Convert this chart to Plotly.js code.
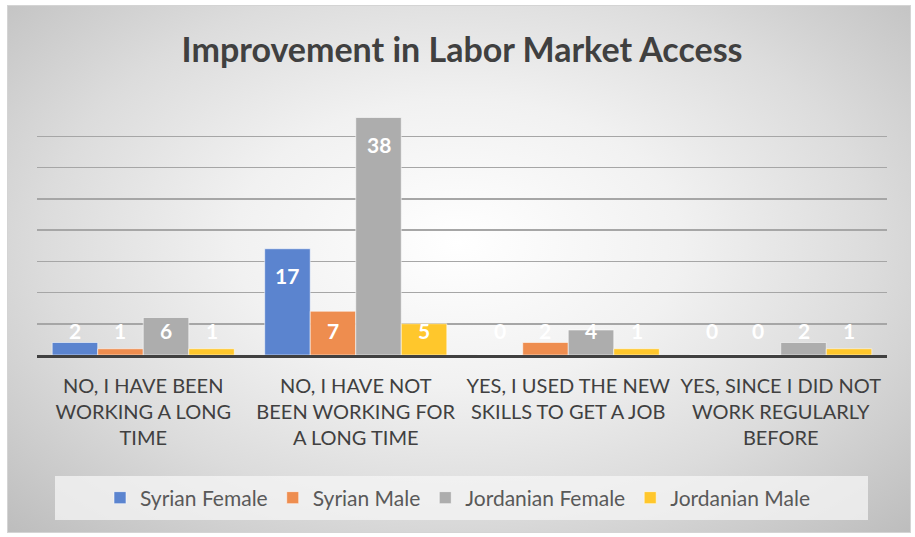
<!DOCTYPE html>
<html>
<head>
<meta charset="utf-8">
<script src="https://cdn.plot.ly/plotly-3.0.1.min.js"></script>
<style>
  html, body { margin: 0; padding: 0; background: #ffffff; }
  #wrap { position: relative; width: 915px; height: 537px; }
  #bg {
    position: absolute; left: 7px; top: 5px; width: 902px; height: 526px;
    border: 1px solid #d4d4d4;
    background: radial-gradient(ellipse farthest-corner at 50% 45%, #ffffff 0%, #f1f1f1 35%, #dcdcdc 65%, #bdbdbd 100%);
  }
  #chart { position: absolute; left: 0; top: 0; width: 915px; height: 537px; }
</style>
</head>
<body>
<div id="wrap"><div id="bg"></div><div id="chart"></div></div>
<script>
// ---- data ----
const categories = [
  "NO, I HAVE BEEN WORKING A LONG TIME",
  "NO, I HAVE NOT BEEN WORKING FOR A LONG TIME",
  "YES, I USED THE NEW SKILLS TO GET A JOB",
  "YES, SINCE I DID NOT WORK REGULARLY BEFORE"
];
const tickLabels = [
  "NO, I HAVE BEEN<br>WORKING A LONG<br>TIME",
  "NO, I HAVE NOT<br>BEEN WORKING FOR<br>A LONG TIME",
  "YES, I USED THE NEW<br>SKILLS TO GET A JOB",
  "YES, SINCE I DID NOT<br>WORK REGULARLY<br>BEFORE"
];
const seriesNames = ["Syrian Female", "Syrian Male", "Jordanian Female", "Jordanian Male"];
const syrianFemale = [2, 17, 0, 0];
const syrianMale = [1, 7, 2, 0];
const jordanianFemale = [6, 38, 4, 2];
const jordanianMale = [1, 5, 1, 1];
const seriesValues = [syrianFemale, syrianMale, jordanianFemale, jordanianMale];
const colors = ["#5B84CF", "#EE8D4F", "#ADADAD", "#FFC72C"];

// ---- layout constants ----
const W = 915, H = 537;
const M = { l: 37, r: 28, t: 105, b: 182 };
const bargap = 0.143;
const yMax = 40;
const plotW = W - M.l - M.r;
const plotH = H - M.t - M.b;
const barPx = (plotW / categories.length) * (1 - bargap) / seriesNames.length;
const pxPerUnit = plotH / yMax;
const FONT = "Lato, 'Open Sans', sans-serif";

const traces = seriesNames.map((name, i) => ({
  type: "bar",
  name: name,
  x: categories,
  y: seriesValues[i],
  marker: { color: colors[i], line: { color: "rgba(255,255,255,0.55)", width: 1 } },
  hoverinfo: "x+y+name"
}));

// data labels (Excel "inside end", clamped near the baseline for short bars)
const annotations = [];
seriesValues.forEach((vals, i) => {
  vals.forEach((v, j) => {
    const fitsInside = v * pxPerUnit - 27 > 25;
    annotations.push({
      xref: "x", yref: "y",
      x: categories[j],
      y: fitsInside ? v : 0,
      yshift: fitsInside ? -27 : 25,
      xshift: (i - (seriesNames.length - 1) / 2) * barPx,
      text: "<b>" + v + "</b>",
      showarrow: false,
      xanchor: "center", yanchor: "middle",
      font: { family: FONT, size: 21, color: "#ffffff" }
    });
  });
});

// legend box (paper coordinates relative to plot area)
const toPaperX = px => (px - M.l) / plotW;
const toPaperY = py => (H - M.b - py) / plotH;

const layout = {
  width: W, height: H,
  margin: M,
  paper_bgcolor: "rgba(0,0,0,0)",
  plot_bgcolor: "rgba(0,0,0,0)",
  barmode: "group",
  bargap: bargap,
  bargroupgap: 0,
  title: {
    text: "<b>Improvement in Labor Market Access</b>",
    font: { family: FONT, size: 34, color: "#404040" },
    x: 0.505, xanchor: "center",
    y: 1 - 50 / H, yanchor: "middle", yref: "container"
  },
  xaxis: {
    type: "category",
    tickvals: categories,
    ticktext: tickLabels,
    tickangle: 0,
    ticks: "",
    ticklabelstandoff: 11,
    showline: true, linecolor: "#404040", linewidth: 3,
    showgrid: false,
    tickfont: { family: FONT, size: 20, color: "#404040" }
  },
  yaxis: {
    range: [0, yMax],
    dtick: 5,
    showticklabels: false,
    ticks: "",
    showgrid: true, gridcolor: "#a6a6a6", gridwidth: 1.5,
    zeroline: false,
    fixedrange: true
  },
  legend: {
    orientation: "h",
    x: 0.5, xanchor: "center", xref: "container",
    y: 1 - 498 / H, yanchor: "middle", yref: "container",
    bgcolor: "rgba(0,0,0,0)",
    font: { family: FONT, size: 21, color: "#595959" },
    itemwidth: 30,
    traceorder: "normal"
  },
  shapes: [{
    type: "rect", layer: "below",
    xref: "paper", yref: "paper",
    x0: toPaperX(55), x1: toPaperX(868),
    y0: toPaperY(520), y1: toPaperY(476),
    fillcolor: "rgba(246,246,246,0.75)",
    line: { width: 0 }
  }],
  annotations: annotations,
  showlegend: true
};

Plotly.newPlot("chart", traces, layout, { displayModeBar: false, staticPlot: true });
</script>
</body>
</html>
